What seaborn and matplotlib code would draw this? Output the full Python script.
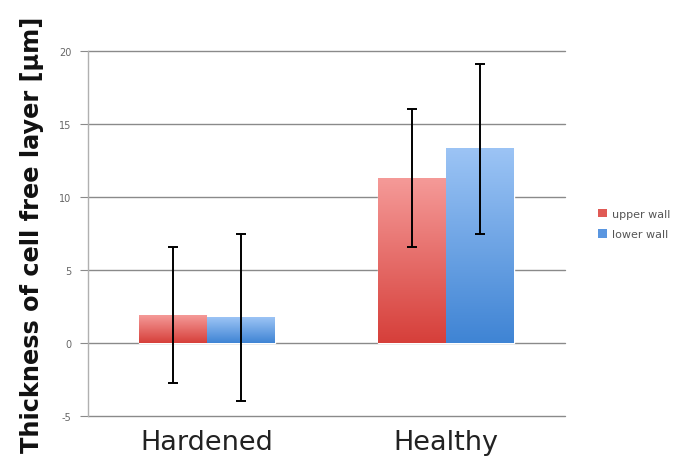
import numpy as np
import pandas as pd
import matplotlib
matplotlib.use("Agg")
import matplotlib.pyplot as plt
import seaborn as sns
from matplotlib.colors import LinearSegmentedColormap
from matplotlib.patches import Patch

categories = ["Hardened", "Healthy"]
series_names = ["upper wall", "lower wall"]
upper_wall = [1.9, 11.3]
lower_wall = [1.75, 13.3]
upper_err = [4.65, 4.7]
lower_err = [5.75, 5.8]
y_ticks = [-5, 0, 5, 10, 15, 20]

df = pd.DataFrame({
    "category": categories * 2,
    "series": [series_names[0]] * 2 + [series_names[1]] * 2,
    "value": upper_wall + lower_wall,
    "err": upper_err + lower_err,
})

sns.set_style("white")
fig = plt.figure(figsize=(6.89, 4.6), dpi=100)
ax = fig.add_axes([88/689, 43/460, (565-88)/689, (417-52)/460])

palette = {"upper wall": "#e05a55", "lower wall": "#5a96e0"}
sns.barplot(data=df, x="category", y="value", hue="series", order=categories,
            hue_order=series_names, palette=palette, width=0.57, gap=0,
            errorbar=None, ax=ax, legend=False, zorder=2)

grads = {
    "upper wall": LinearSegmentedColormap.from_list("u", ["#d63f3a", "#f59a98"]),
    "lower wall": LinearSegmentedColormap.from_list("l", ["#3f84d4", "#9cc4f5"]),
}
grad = np.linspace(0, 1, 256).reshape(-1, 1)
patches = list(ax.patches)
for i, p in enumerate(patches):
    s = series_names[i // len(categories)]
    c = i % len(categories)
    x0, w = p.get_x(), p.get_width()
    h = p.get_height()
    ax.imshow(grad, extent=[x0, x0 + w, 0, h], origin="lower", aspect="auto",
              cmap=grads[s], zorder=2.5, interpolation="bilinear")
    err = (upper_err if s == "upper wall" else lower_err)[c]
    ax.errorbar(x0 + w / 2, h, yerr=err, color="black", lw=1.4, capsize=3.5,
                capthick=1.4, zorder=4)

ax.set_xlim(-0.5, 1.5)
ax.set_ylim(-5, 20)
ax.set_yticks(y_ticks)
ax.set_yticklabels([str(t) for t in y_ticks])
for t in y_ticks:
    ax.axhline(t, color="#8a8a8a", lw=1.0, zorder=1, clip_on=False)
for sp in ["top", "right", "bottom"]:
    ax.spines[sp].set_visible(False)
ax.spines["left"].set_color("#b0b0b0")
ax.spines["left"].set_linewidth(1.0)
ax.tick_params(axis="y", which="both", left=True, length=6, color="#8a8a8a",
               labelsize=7, labelcolor="#666666", pad=6)
ax.tick_params(axis="x", bottom=False, labelsize=19.5, labelcolor="#222222", pad=6)
ax.set_xlabel("")
ax.set_ylabel("Thickness of cell free layer [µm]", fontsize=17.3,
              fontweight="bold", color="#111111", labelpad=11)

handles = [Patch(facecolor=palette[s], edgecolor="none") for s in series_names]
leg = fig.legend(handles, series_names, loc="center left",
                 bbox_to_anchor=(588/689, 1 - 225/460), frameon=False,
                 fontsize=8, handlelength=0.8, handleheight=0.8,
                 handletextpad=0.5, labelspacing=0.9)
for t in leg.get_texts():
    t.set_color("#555555")

fig.savefig("out.png", dpi=100)
